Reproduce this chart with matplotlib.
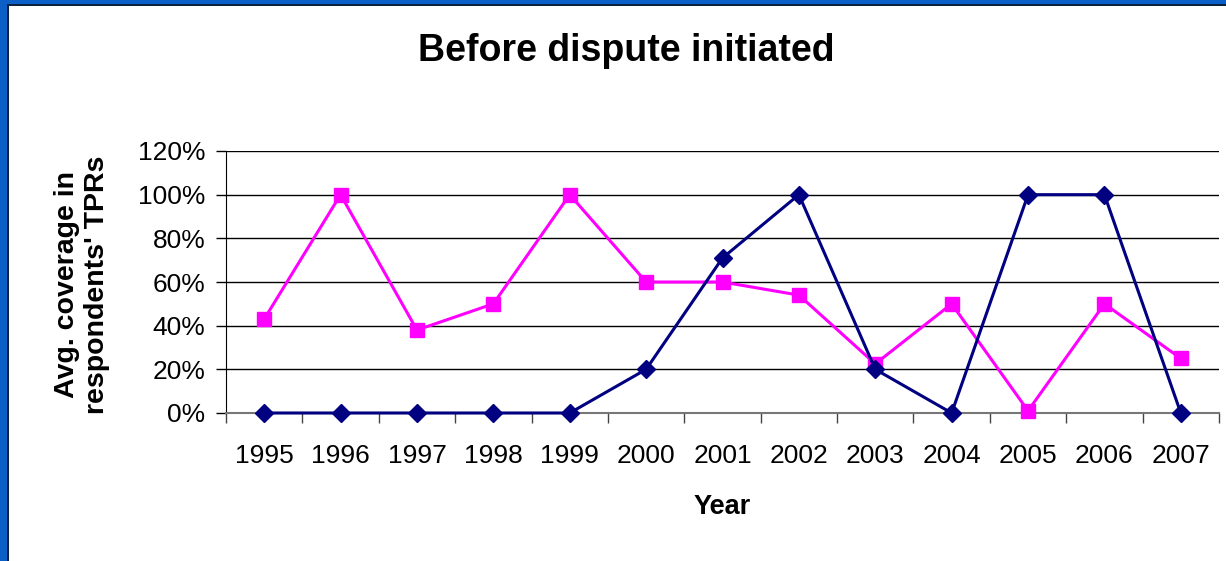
import matplotlib
matplotlib.use("Agg")
import matplotlib.pyplot as plt
from matplotlib.patches import Rectangle
from matplotlib.ticker import FixedLocator, NullFormatter

years = ["1995", "1996", "1997", "1998", "1999", "2000", "2001",
         "2002", "2003", "2004", "2005", "2006", "2007"]
complainant = [0.43, 1.00, 0.38, 0.50, 1.00, 0.60, 0.60,
               0.54, 0.225, 0.50, 0.01, 0.50, 0.25]
respondent = [0.0, 0.0, 0.0, 0.0, 0.0, 0.20, 0.71,
              1.00, 0.20, 0.0, 1.00, 1.00, 0.0]
y_ticks = [0.0, 0.2, 0.4, 0.6, 0.8, 1.0, 1.2]
y_tick_labels = ["0%", "20%", "40%", "60%", "80%", "100%", "120%"]

plt.rcParams["font.family"] = ["Liberation Sans", "DejaVu Sans"]

W, H = 1226, 561
fig = plt.figure(figsize=(W / 100, H / 100), dpi=100)

# slide background: blue frame with a dark edge around the white panel
fig.patches.append(Rectangle((0, 0), 1, 1, transform=fig.transFigure,
                             facecolor="#0b5fc6", edgecolor="none", zorder=-3))
fig.patches.append(Rectangle((7 / W, 0), 1, 1 - 4 / H, transform=fig.transFigure,
                             facecolor="#0c2340", edgecolor="none", zorder=-2))
fig.patches.append(Rectangle((9 / W, 0), 1, 1 - 6 / H, transform=fig.transFigure,
                             facecolor="white", edgecolor="none", zorder=-1))

left, right, top, bottom = 226, 1219, 151, 413
ax = fig.add_axes([left / W, 1 - bottom / H, (right - left) / W, (bottom - top) / H])
ax.set_facecolor("none")

x = list(range(len(years)))
ax.plot(x, complainant, color="#FF00FF", linewidth=2.2, marker="s",
        markersize=10.5, markeredgecolor="#FF00FF", zorder=3, clip_on=False)
ax.plot(x, respondent, color="#000080", linewidth=2.2, marker="D",
        markersize=9, markeredgecolor="#000080", zorder=4, clip_on=False)

ax.set_xlim(-0.5, len(years) - 0.5)
ax.set_ylim(0, 1.2)

ax.set_yticks(y_ticks)
ax.set_yticklabels(y_tick_labels, fontsize=19)
ax.yaxis.grid(True, color="black", linewidth=1.0)
ax.set_axisbelow(True)

# category labels centred, tick marks on the category boundaries
ax.set_xticks(x)
ax.set_xticklabels(years, fontsize=19)
ax.tick_params(axis="x", which="major", length=0, pad=22)
ax.xaxis.set_minor_locator(FixedLocator([i - 0.5 for i in range(len(years) + 1)]))
ax.xaxis.set_minor_formatter(NullFormatter())
ax.tick_params(axis="x", which="minor", length=7, width=1, color="#444444")
ax.tick_params(axis="y", length=7, width=1, pad=8)

for s in ("top", "right"):
    ax.spines[s].set_visible(False)
ax.spines["left"].set_color("black")
ax.spines["bottom"].set_color("#777777")
ax.spines["bottom"].set_linewidth(1.5)

fig.text(626 / W, 1 - 51 / H, "Before dispute initiated", ha="center", va="center",
         fontsize=27, fontweight="bold")
fig.text(722 / W, 1 - 507 / H, "Year", ha="center", va="center",
         fontsize=19.5, fontweight="bold")
fig.text(82 / W, 1 - 285 / H, "Avg. coverage in\nrespondents' TPRs", ha="center",
         va="center", rotation=90, fontsize=20.5, fontweight="bold", linespacing=1.2)

fig.savefig("out.png", dpi=100)
